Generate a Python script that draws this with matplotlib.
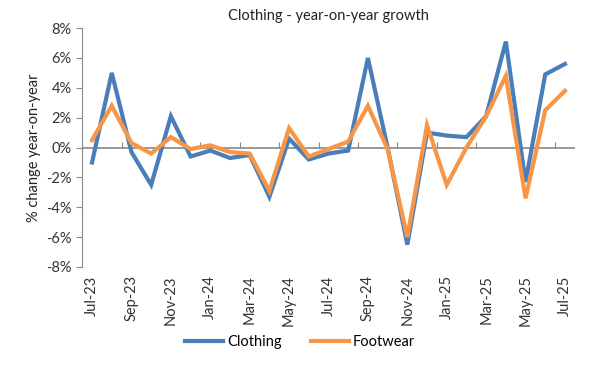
import matplotlib
matplotlib.use('Agg')
import matplotlib.pyplot as plt
from matplotlib.ticker import FuncFormatter

# Data (% change year-on-year)
months = ['Jul-23', 'Aug-23', 'Sep-23', 'Oct-23', 'Nov-23', 'Dec-23',
          'Jan-24', 'Feb-24', 'Mar-24', 'Apr-24', 'May-24', 'Jun-24',
          'Jul-24', 'Aug-24', 'Sep-24', 'Oct-24', 'Nov-24', 'Dec-24',
          'Jan-25', 'Feb-25', 'Mar-25', 'Apr-25', 'May-25', 'Jun-25', 'Jul-25']
clothing = [-1.0, 5.0, -0.3, -2.5, 2.1, -0.6, -0.2, -0.7, -0.5, -3.3, 0.6, -0.8,
            -0.4, -0.2, 6.0, 0.0, -6.5, 1.0, 0.8, 0.7, 2.1, 7.1, -2.3, 4.9, 5.6]
footwear = [0.5, 2.8, 0.3, -0.4, 0.7, -0.1, 0.15, -0.3, -0.4, -2.9, 1.3, -0.6,
            -0.1, 0.4, 2.8, -0.1, -6.0, 1.5, -2.5, 0.0, 2.1, 4.8, -3.4, 2.5, 3.8]

plt.rcParams['font.family'] = ['Lato', 'DejaVu Sans']

fig = plt.figure(figsize=(6, 3.75), dpi=100)
ax = fig.add_axes([0.137, 0.288, 0.821, 0.637])

x = list(range(len(months)))
ax.plot(x, clothing, color='#4A7EBB', lw=3, label='Clothing', solid_joinstyle='miter', zorder=3)
ax.plot(x, footwear, color='#F79646', lw=3, label='Footwear', solid_joinstyle='miter', zorder=4)

ax.set_xlim(-0.5, len(months) - 0.5)
ax.set_ylim(-8, 8)
ax.set_yticks(range(-8, 9, 2))
ax.yaxis.set_major_formatter(FuncFormatter(lambda v, p: f'{v:.0f}%'))
ax.set_ylabel('% change year-on-year', fontsize=10.5, color='#222222')
ax.set_title('Clothing - year-on-year growth', fontsize=10.5, color='#222222', pad=6)

# category labels at the bottom, every second month
ax.set_xticks(x[::2])
ax.set_xticklabels(months[::2], rotation=90)
ax.tick_params(axis='x', length=0, pad=6, labelsize=10.5, labelcolor='#333333')
ax.tick_params(axis='y', length=4, color='#888888', labelsize=10.5, labelcolor='#333333')

for s in ['top', 'right', 'bottom']:
    ax.spines[s].set_visible(False)
ax.spines['left'].set_color('#888888')

# zero line with tick marks between categories
ax.axhline(0, color='#888888', lw=1.2, zorder=2)
zero = ax.secondary_xaxis(0.5)
zero.set_xticks([i + 1.5 for i in x[:-1:2]])
zero.set_xticklabels([])
zero.tick_params(length=4, color='#888888')
for sp in zero.spines.values():
    sp.set_visible(False)

fig.legend(*ax.get_legend_handles_labels(), loc='center', bbox_to_anchor=(0.5, 0.088),
           ncol=2, frameon=False, fontsize=10.5, handlelength=2.6,
           columnspacing=2.0, handletextpad=0.3)

fig.savefig('out.png', dpi=100)
